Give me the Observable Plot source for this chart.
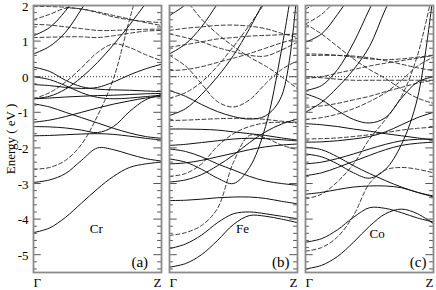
<!DOCTYPE html>
<html><head><meta charset="utf-8">
<script src="https://cdn.jsdelivr.net/npm/d3@7"></script>
<script src="https://cdn.jsdelivr.net/npm/@observablehq/plot@0.6"></script>
<style>body{margin:0;background:#fff} svg text{font-family:"Liberation Serif","Times New Roman",serif !important}</style>
</head><body><div id="chart"></div>
<script>
const panels = ["Cr", "Fe", "Co"];
const panelTags = ["(a)", "(b)", "(c)"];
const kGrid = [0, 0.125, 0.25, 0.375, 0.5, 0.625, 0.75, 0.875, 1];
const yTicks = [-5, -4, -3, -2, -1, 0, 1, 2];
const kLabels = ["Γ", "Z"];
const yTitle = "Energy ( eV )";

const crSolid = [
  [1.15, 1.38, 1.85, 2.5, 3.2, 3.9, 4.6, 5.3, 6],
  [0.64, 0.85, 1.25, 1.9, 2.6, 3.3, 4, 4.7, 5.4],
  [0.27, 0.15, -0.1, -0.28, -0.35, -0.37, -0.38, -0.4, -0.42],
  [0.0, -0.08, -0.25, -0.45, -0.58, -0.62, -0.6, -0.56, -0.52],
  [-0.62, -0.55, -0.35, -0.02, 0.4, 0.9, 1.45, 2.05, 2.6],
  [-0.22, -0.25, -0.3, -0.33, -0.3, -0.15, 0.05, 0.22, 0.35],
  [-0.62, -0.6, -0.57, -0.55, -0.53, -0.52, -0.5, -0.48, -0.47],
  [-0.76, -0.85, -1.0, -1.15, -1.3, -1.45, -1.58, -1.68, -1.73],
  [-1.28, -1.22, -1.12, -1.0, -0.88, -0.77, -0.68, -0.6, -0.55],
  [-1.4, -1.41, -1.44, -1.5, -1.57, -1.4, -0.98, -0.65, -0.5],
  [-1.66, -1.65, -1.63, -1.61, -1.6, -1.62, -1.67, -1.73, -1.78],
  [-2.97, -2.9, -2.72, -2.35, -2.0, -2.05, -2.18, -2.3, -2.37],
  [-4.38, -4.25, -3.95, -3.55, -3.15, -2.8, -2.55, -2.45, -2.4]
];
const crDashed = [
  [1.97, 1.97, 1.95, 1.9, 1.82, 1.72, 1.62, 1.52, 1.44],
  [1.6, 1.75, 1.92, 1.9, 1.8, 1.68, 1.6, 1.55, 1.52],
  [1.47, 1.45, 1.4, 1.35, 1.3, 1.3, 1.32, 1.33, 1.34],
  [1.1, 1.11, 1.12, 1.12, 1.1, 1.15, 1.22, 1.28, 1.3],
  [-0.62, -0.45, -0.15, 0.25, 0.68, 0.92, 0.82, 0.62, 0.45],
  [-2.6, -2.55, -2.35, -1.9, -1.1, -0.05, 1.6, 3.2, 4.8]
];
const feSolid = [
  [1.72, 2.02, 2.45, 3, 3.6, 4.2, 4.8, 5.4, 6],
  [0.64, 0.92, 1.4, 2.05, 2.7, 3.4, 4.1, 4.8, 5.5],
  [-0.39, -0.55, -0.78, -0.98, -1.12, -1.19, -1.1, -0.55, 2.6],
  [-1.09, -0.9, -0.5, 0.0, 0.6, 1.35, 2.2, 3, 3.8],
  [-1.47, -1.47, -1.48, -1.5, -1.55, -1.6, -1.65, -1.72, -1.78],
  [-1.93, -1.9, -1.85, -1.8, -1.75, -1.73, -1.74, -1.77, -1.8],
  [-2.03, -2.1, -2.25, -2.45, -2.62, -2.8, -2.93, -3.0, -3.05],
  [-2.31, -2.4, -2.6, -2.85, -3.0, -2.55, -1.4, 0.75, 3.5],
  [-2.45, -2.42, -2.35, -2.25, -2.15, -2.05, -1.97, -1.92, -1.89],
  [-2.96, -2.9, -2.75, -2.5, -2.2, -1.85, -1.55, -1.33, -1.19],
  [-3.48, -3.47, -3.44, -3.4, -3.38, -3.38, -3.42, -3.5, -3.57],
  [-4.83, -4.7, -4.45, -4.1, -3.85, -3.8, -3.85, -3.92, -3.99],
  [-5.35, -5.25, -5.0, -4.6, -4.15, -3.9, -3.92, -4.0, -4.1]
];
const feDashed = [
  [2.5, 2.15, 1.62, 1.2, 0.85, 0.55, 0.3, 0.0, -0.34],
  [1.3, 1.36, 1.4, 1.44, 1.45, 1.42, 1.35, 1.22, 1.1],
  [1.2, 1.1, 0.98, 0.82, 0.7, 0.6, 0.58, 0.75, 0.97],
  [0.83, 0.9, 0.98, 1.06, 1.1, 1.14, 1.16, 1.18, 1.2],
  [0.6, 0.3, -0.2, -0.7, -0.85, -0.65, -0.2, 0.2, 0.45],
  [0.17, 0.2, 0.28, 0.4, 0.52, 0.65, 0.8, 0.95, 1.08],
  [-0.6, -0.45, -0.15, 0.3, 0.85, 1.45, 2.1, 2.8, 3.5],
  [-1.23, -1.22, -1.2, -1.18, -1.17, -1.17, -1.2, -1.25, -1.28],
  [-2.8, -2.72, -2.45, -1.95, -1.6, -1.4, -1.3, -1.28, -1.3],
  [-4.46, -4.38, -4.18, -3.7, -2.4, -1.65, -1.72, -1.92, -2.05]
];
const coSolid = [
  [0.97, 1.2, 1.75, 2.4, 3.1, 3.8, 4.5, 5.2, 5.9],
  [-0.39, -0.25, 0.2, 0.95, 1.9, 2.8, 3.7, 4.6, 5.5],
  [-1.0, -0.72, -0.3, 0.2, 0.85, 1.9, 2.8, 3.7, 4.6],
  [-0.48, -0.65, -0.95, -1.2, -1.3, -1.15, -0.6, -0.15, 0.0],
  [-1.32, -1.35, -1.4, -1.47, -1.53, -1.6, -1.66, -1.72, -1.78],
  [-1.84, -1.83, -1.8, -1.75, -1.68, -1.55, -1.35, -1.15, -1.0],
  [-1.98, -2.05, -2.25, -2.5, -2.72, -2.92, -3.1, -3.25, -3.35],
  [-2.17, -2.25, -2.45, -2.7, -2.85, -2.6, -1.9, -0.6, 2.4],
  [-2.45, -2.4, -2.3, -2.17, -2.03, -1.9, -1.8, -1.76, -1.75],
  [-2.78, -2.7, -2.55, -2.38, -2.21, -2.05, -1.93, -1.87, -1.84],
  [-3.3, -3.25, -3.17, -3.1, -3.07, -3.07, -3.12, -3.25, -3.38],
  [-4.65, -4.55, -4.3, -3.95, -3.68, -3.7, -3.82, -3.97, -4.08],
  [-5.4, -5.3, -5.05, -4.65, -4.2, -3.85, -3.72, -3.85, -4.13]
];
const coDashed = [
  [1.9, 2.15, 2.5, 2.9, 3.3, 3.7, 4.1, 4.5, 4.9],
  [1.48, 1.2, 0.85, 0.5, 0.2, -0.05, -0.35, -0.6, -0.75],
  [1.48, 1.75, 2.2, 2.7, 3.2, 3.7, 4.2, 4.7, 5.2],
  [0.6, 0.6, 0.6, 0.58, 0.53, 0.45, 0.35, 0.25, 0.17],
  [0.64, 0.63, 0.6, 0.55, 0.5, 0.48, 0.5, 0.55, 0.6],
  [-0.05, 0.0, 0.1, 0.2, 0.3, 0.38, 0.45, 0.52, 0.6],
  [0.0, -0.03, -0.07, -0.1, -0.1, -0.1, -0.1, -0.1, -0.1],
  [-0.86, -0.82, -0.75, -0.65, -0.55, -0.42, -0.3, -0.18, -0.1],
  [-1.2, -1.15, -1.05, -0.9, -0.7, -0.45, -0.1, 0.3, 0.55],
  [-1.75, -1.74, -1.72, -1.68, -1.63, -1.57, -1.5, -1.45, -1.42],
  [-3.43, -3.3, -2.95, -2.45, -1.75, -1.2, -0.55, 0.6, 2.5],
  [-4.9, -4.8, -4.5, -3.9, -3.0, -2.62, -2.55, -2.6, -2.7]
];
// label positions (in data units of each panel)
const nameK = [0.49, 0.57, 0.56];
const nameE = [-4.27, -4.27, -4.41];
const tagK = [0.83, 0.87, 0.88];
const tagE = [-5.22, -5.2, -5.2];

function toRows(panel, bands, style) {
  return bands.flatMap((b, i) => b.map((E, j) => ({panel, id: panel + style + i, k: kGrid[j], E, style})));
}
const bandRows = [
  ...toRows("Cr", crSolid, "s"), ...toRows("Cr", crDashed, "d"),
  ...toRows("Fe", feSolid, "s"), ...toRows("Fe", feDashed, "d"),
  ...toRows("Co", coSolid, "s"), ...toRows("Co", coDashed, "d")
];

const minor = d3.range(-54, 21, 2).map(v => v / 10).filter(v => !Number.isInteger(v));
const tickRows = [
  ...yTicks.map(y => ({y, len: 0.06})),
  ...minor.map(y => ({y, len: 0.03}))
];
const labelRows = yTicks.map(y => ({panel: "Cr", y, text: String(y)}));
const nameRows = panels.map((p, i) => ({panel: p, k: nameK[i], E: nameE[i], text: p}));
const tagRows = panels.map((p, i) => ({panel: p, k: tagK[i], E: tagE[i], text: panelTags[i]}));
const startRows = panels.map(p => ({panel: p, k: 0, text: kLabels[0]}));
const endRows = panels.map(p => ({panel: p, k: 1, text: kLabels[1]}));
const serif = "Liberation Serif";

const chart = Plot.plot({
  width: 436, height: 290,
  marginLeft: 32, marginRight: 3, marginTop: 5, marginBottom: 18,
  style: {fontFamily: serif, fontSize: "13px", background: "#fff"},
  fx: {domain: panels, paddingInner: 0.0623, paddingOuter: 0, axis: null, label: null},
  x: {domain: [0, 1], axis: null},
  y: {domain: [-5.5, 2], axis: null},
  marks: [
    Plot.ruleY([0], {stroke: "#000", strokeWidth: 0.8, strokeDasharray: "1,2"}),
    Plot.line(bandRows.filter(d => d.style === "d"), {x: "k", y: "E", z: "id", fx: "panel", curve: "catmull-rom", stroke: "#222", strokeWidth: 0.9, strokeDasharray: "4,2.5", clip: true}),
    Plot.line(bandRows.filter(d => d.style === "s"), {x: "k", y: "E", z: "id", fx: "panel", curve: "catmull-rom", stroke: "#111", strokeWidth: 1, clip: true}),
    Plot.ruleY(tickRows, {y: "y", x1: 0, x2: "len", stroke: "#555", strokeWidth: 1}),
    Plot.ruleY(tickRows, {y: "y", x1: d => 1 - d.len, x2: 1, stroke: "#555", strokeWidth: 1}),
    Plot.frame({stroke: "#8a8a8a", strokeWidth: 1.8}),
    Plot.text(labelRows, {fx: "panel", x: 0, y: "y", text: "text", textAnchor: "end", dx: -5, dy: 1, fontSize: 13, fontFamily: serif}),
    Plot.text([{panel: "Cr"}], {fx: "panel", x: 0, y: -1.75, text: () => yTitle, rotate: -90, dx: -23, fontSize: 13, fontFamily: serif}),
    Plot.text(nameRows, {fx: "panel", x: "k", y: "E", text: "text", fontSize: 13, fontFamily: serif}),
    Plot.text(tagRows, {fx: "panel", x: "k", y: "E", text: "text", fontSize: 15, fontFamily: serif}),
    Plot.text(startRows, {fx: "panel", x: "k", y: -5.5, text: "text", textAnchor: "start", dy: 10, fontSize: 13, fontFamily: serif}),
    Plot.text(endRows, {fx: "panel", x: "k", y: -5.5, text: "text", textAnchor: "end", dy: 10, fontSize: 13, fontFamily: serif})
  ]
});
document.getElementById("chart").appendChild(chart);
</script>
</body></html>
